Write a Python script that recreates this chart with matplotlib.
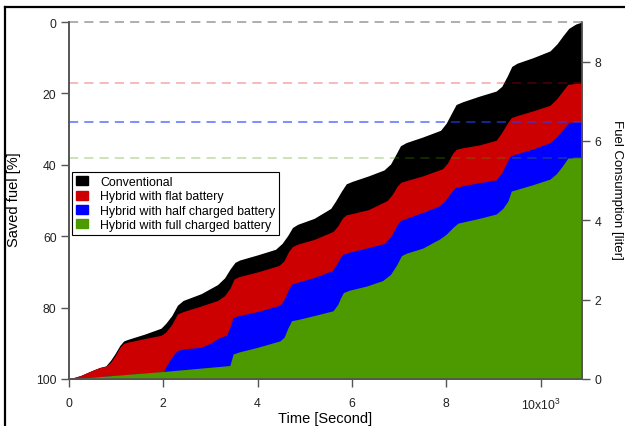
import matplotlib.pyplot as plt
from matplotlib.patches import Patch
from matplotlib.lines import Line2D

plt.rcParams['font.family'] = ['Liberation Sans', 'DejaVu Sans']
plt.rcParams['mathtext.default'] = 'regular'

# cumulative fuel use [liter] against time [s], one NEDC run repeated
conv_t = [0, 250, 500, 650, 780, 880, 970, 1080, 1160, 1250, 1600, 1950, 2050, 2180,
          2300, 2420, 2800, 3150, 3300, 3420, 3520, 3620, 4000, 4380, 4520, 4640,
          4740, 4850, 5200, 5550, 5650, 5780, 5880, 6000, 6350, 6680, 6820, 6940,
          7030, 7150, 7500, 7880, 8000, 8120, 8210, 8350, 8700, 9060, 9180, 9300,
          9390, 9500, 9840, 10200, 10350, 10480, 10600, 10750, 10880]
conv_fuel = [0, 0.09, 0.22, 0.29, 0.33, 0.47, 0.63, 0.85, 0.96, 1.0, 1.13, 1.28, 1.40,
             1.60, 1.86, 1.98, 2.15, 2.38, 2.55, 2.78, 2.94, 3.0, 3.13, 3.27, 3.42,
             3.62, 3.82, 3.9, 4.05, 4.30, 4.48, 4.74, 4.92, 4.98, 5.12, 5.27, 5.42,
             5.68, 5.88, 5.96, 6.1, 6.27, 6.45, 6.72, 6.92, 6.99, 7.13, 7.26, 7.38,
             7.65, 7.88, 7.96, 8.10, 8.27, 8.45, 8.66, 8.84, 8.95, 9.0]

flat_t = [0, 250, 500, 650, 780, 880, 970, 1080, 1160, 1250, 1600, 1950, 2050, 2180,
          2300, 2420, 2800, 3150, 3300, 3420, 3500, 3600, 4000, 4450, 4560, 4660,
          4740, 4850, 5200, 5600, 5700, 5800, 5880, 6000, 6350, 6750, 6860, 6960,
          7040, 7150, 7500, 7920, 8030, 8130, 8210, 8350, 8700, 9060, 9170, 9280,
          9380, 9500, 9840, 10200, 10340, 10470, 10580, 10750, 10880]
flat_fuel = [0, 0.09, 0.22, 0.29, 0.32, 0.42, 0.57, 0.80, 0.90, 0.93, 1.02, 1.10, 1.18,
             1.38, 1.64, 1.70, 1.84, 1.98, 2.10, 2.30, 2.52, 2.58, 2.70, 2.86, 2.98,
             3.22, 3.34, 3.40, 3.52, 3.72, 3.86, 4.06, 4.14, 4.17, 4.27, 4.50, 4.66,
             4.86, 4.96, 5.0, 5.12, 5.30, 5.45, 5.68, 5.79, 5.83, 5.90, 6.02, 6.20,
             6.42, 6.59, 6.64, 6.76, 6.90, 7.06, 7.26, 7.43, 7.45, 7.46]

half_t = [0, 2000, 2050, 2150, 2220, 2300, 2450, 2800, 3000, 3200, 3340, 3410, 3480,
          3600, 4000, 4470, 4560, 4640, 4720, 4850, 5200, 5580, 5680, 5760, 5820,
          5950, 6300, 6700, 6840, 6940, 7020, 7150, 7500, 7860, 7980, 8100, 8200,
          8350, 8700, 9060, 9180, 9280, 9360, 9500, 9840, 10200, 10340, 10480,
          10610, 10750, 10880]
half_fuel = [0, 0.18, 0.30, 0.50, 0.62, 0.72, 0.76, 0.80, 0.90, 1.05, 1.10, 1.30, 1.55,
             1.60, 1.70, 1.86, 2.0, 2.22, 2.39, 2.44, 2.56, 2.73, 2.90, 3.08, 3.15,
             3.20, 3.30, 3.42, 3.62, 3.85, 3.99, 4.05, 4.20, 4.37, 4.50, 4.70, 4.83,
             4.87, 4.95, 5.02, 5.20, 5.45, 5.62, 5.68, 5.80, 5.96, 6.10, 6.30, 6.47,
             6.48, 6.48]

full_t = [0, 2000, 3410, 3450, 3480, 3600, 4000, 4470, 4560, 4640, 4720, 4850, 5200,
          5600, 5700, 5760, 5820, 5950, 6300, 6650, 6820, 6950, 7050, 7150, 7500,
          7860, 8000, 8140, 8250, 8400, 8700, 9060, 9200, 9310, 9380, 9500, 9840,
          10200, 10340, 10470, 10580, 10750, 10880]
full_fuel = [0, 0.19, 0.34, 0.50, 0.63, 0.68, 0.80, 0.96, 1.05, 1.28, 1.47, 1.50, 1.60,
             1.72, 1.88, 2.05, 2.18, 2.24, 2.34, 2.48, 2.64, 2.88, 3.11, 3.17, 3.30,
             3.53, 3.65, 3.82, 3.93, 3.97, 4.05, 4.16, 4.30, 4.49, 4.74, 4.78, 4.90,
             5.04, 5.18, 5.38, 5.57, 5.58, 5.58]

labels = ["Conventional", "Hybrid with flat battery",
          "Hybrid with half charged battery", "Hybrid with full charged battery"]
colors = ["#000000", "#cc0000", "#0000ff", "#4c9900"]
line_colors = [("#808080", 0.8), ("#e00000", 0.35), ("#2040ff", 0.75), ("#4c9900", 0.35)]

x_ticks = [0, 2000, 4000, 6000, 8000, 10000]
x_ticklabels = ["0", "2", "4", "6", "8", "10x10$^{3}$"]
saved_ticks = [0, 20, 40, 60, 80, 100]
fuel_ticks = [0, 2, 4, 6, 8]

series = [(conv_t, conv_fuel), (flat_t, flat_fuel), (half_t, half_fuel), (full_t, full_fuel)]
ref_total = conv_fuel[-1]

fig = plt.figure(figsize=(6.25, 4.27), dpi=100)
ax = fig.add_axes([69 / 625, 1 - 380 / 427, 513 / 625, 357 / 427])
ax2 = ax.twinx()

axis_col = "#555555"
for a in (ax, ax2):
    for s in a.spines.values():
        s.set_color(axis_col)
        s.set_linewidth(1.2)
    a.spines["top"].set_visible(False)
    a.tick_params(direction="out", length=6, width=1, color=axis_col,
                  labelsize=8.8, labelcolor="#222222")
ax.spines["right"].set_visible(False)

# stacked areas, largest consumer at the back
for (t, f), c in zip(series, colors):
    ax2.fill_between(t, 0, f, color=c, lw=0)

# final consumption levels as dashed guides
for (t, f), (lc, al) in zip(series, line_colors):
    ax2.axhline(f[-1], color=lc, alpha=al, lw=1.1, dashes=(6, 4), clip_on=False)

ax2.set_ylim(0, ref_total)
ax2.set_yticks(fuel_ticks)
ax2.tick_params(axis="y", pad=3)

ax.set_ylim(100, 0)
ax.set_yticks(saved_ticks)
ax.tick_params(axis="y", pad=3)
ax.set_xlim(0, conv_t[-1])
ax.set_xticks(x_ticks)
ax.set_xticklabels(x_ticklabels)
ax.tick_params(axis="x", pad=7)

handles = [Patch(facecolor=c, edgecolor=c) for c in colors]
leg = ax2.legend(handles, labels, loc="upper left", bbox_to_anchor=(0.006, 0.58),
                 borderaxespad=0, fontsize=8.9, frameon=True, fancybox=False,
                 edgecolor="black", framealpha=1, handlelength=0.9, handleheight=0.75,
                 handletextpad=1.0, labelspacing=0.18, borderpad=0.35)
leg.get_frame().set_linewidth(0.8)

fig.text(14 / 625, 1 - 200 / 427, "Saved fuel [%]", rotation=90, fontsize=10.5,
         ha="center", va="center")
fig.text(617 / 625, 1 - 190 / 427, "Fuel Consumption [liter]", rotation=-90, fontsize=9.5,
         ha="center", va="center")
fig.text(325 / 625, 1 - 419 / 427, "Time [Second]", fontsize=10.5, ha="center", va="center")

# outer frame
fig.add_artist(Line2D([5 / 625, 1], [1 - 8 / 427, 1 - 8 / 427], color="black", lw=1.6,
                      transform=fig.transFigure))
fig.add_artist(Line2D([5 / 625, 5 / 625], [0, 1 - 8 / 427], color="black", lw=1.6,
                      transform=fig.transFigure))

fig.savefig("out.png", dpi=100)
